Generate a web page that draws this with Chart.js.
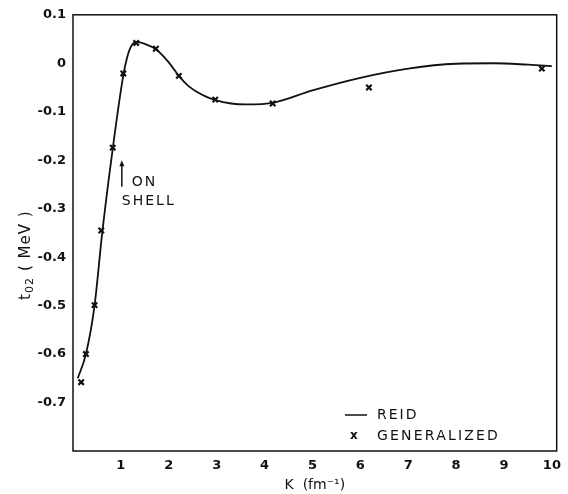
<!DOCTYPE html>
<html>
<head>
<meta charset="utf-8">
<script src="https://cdn.jsdelivr.net/npm/chart.js@4.4.0/dist/chart.umd.min.js"></script>
<style>
  html, body { margin: 0; padding: 0; background: #fff; }
  #wrap { width: 568px; height: 494px; }
</style>
</head>
<body>
<div id="wrap"><canvas id="myChart" width="568" height="494"></canvas></div>
<script>
// Reid curve
const reidK = [0.10, 0.27, 0.45, 0.61, 0.83, 1.05, 1.13, 1.22, 1.33, 1.50, 1.73, 2.00, 2.21, 2.40, 2.62, 2.80, 2.97, 3.30, 3.60, 4.20, 5.0, 6.0, 7.0, 8.0, 8.8, 9.5, 10.0];
const reidT = [-0.650, -0.600, -0.500, -0.350, -0.176, -0.025, 0.012, 0.036, 0.044, 0.040, 0.029, 0.002, -0.026, -0.046, -0.061, -0.070, -0.076, -0.083, -0.085, -0.081, -0.056, -0.030, -0.011, -0.001, 0.000, -0.003, -0.006];

// generalized points
const genK = [0.17, 0.27, 0.45, 0.59, 0.83, 1.05, 1.32, 1.73, 2.21, 2.97, 4.17, 6.18, 9.79];
const genT = [-0.658, -0.600, -0.499, -0.345, -0.174, -0.021, 0.042, 0.030, -0.026, -0.075, -0.083, -0.050, -0.011];

const xTicks = [1, 2, 3, 4, 5, 6, 7, 8, 9, 10];
const yTicks = [0.1, 0, -0.1, -0.2, -0.3, -0.4, -0.5, -0.6, -0.7];

const font = "'DejaVu Sans', sans-serif";

// box round the plot, y title, legend and the ON SHELL arrow
const extras = {
  id: 'extras',
  afterDraw(chart) {
    const ctx = chart.ctx;
    const a = chart.chartArea;
    const xs = chart.scales.x, ys = chart.scales.y;
    ctx.save();
    ctx.strokeStyle = '#111';
    ctx.lineWidth = 1.5;
    ctx.strokeRect(a.left, a.top, a.right - a.left, a.bottom - a.top);

    ctx.fillStyle = '#111';
    ctx.textBaseline = 'middle';
    ctx.textAlign = 'left';

    // y title with subscript
    ctx.save();
    ctx.translate(26, 254);
    ctx.rotate(-Math.PI / 2);
    ctx.font = '15px ' + font;
    ctx.letterSpacing = '1px';
    let x0 = -46;
    ctx.fillText('t', x0, 0);
    x0 += ctx.measureText('t').width;
    ctx.font = '11px ' + font;
    ctx.fillText('02', x0, 4);
    x0 += ctx.measureText('02').width + 6;
    ctx.font = '15px ' + font;
    ctx.fillText('( MeV )', x0, 0);
    ctx.restore();

    ctx.font = '14px ' + font;
    ctx.letterSpacing = '2px';

    // arrow
    const ax = xs.getPixelForValue(1.02);
    const ay0 = ys.getPixelForValue(-0.255), ay1 = ys.getPixelForValue(-0.2);
    ctx.lineWidth = 1.5;
    ctx.beginPath();
    ctx.moveTo(ax, ay0);
    ctx.lineTo(ax, ay1 + 3);
    ctx.stroke();
    ctx.beginPath();
    ctx.moveTo(ax - 2.5, ay1 + 6);
    ctx.lineTo(ax, ay1);
    ctx.lineTo(ax + 2.5, ay1 + 6);
    ctx.closePath();
    ctx.fill();
    ctx.fillText('ON', ax + 10, ay0 - 4);
    ctx.fillText('SHELL', ax, ay0 + 15);

    // legend
    const lx = a.left + 272, ly = a.bottom - 36;
    ctx.lineWidth = 1.5;
    ctx.beginPath();
    ctx.moveTo(lx, ly);
    ctx.lineTo(lx + 22, ly);
    ctx.stroke();
    ctx.fillText('REID', lx + 32, ly);
    ctx.font = 'bold 12px ' + font;
    ctx.letterSpacing = '0px';
    ctx.fillText('x', lx + 5, ly + 21);
    ctx.font = '14px ' + font;
    ctx.letterSpacing = '2.2px';
    ctx.fillText('GENERALIZED', lx + 32, ly + 21);
    ctx.restore();
  }
};

const ctx = document.getElementById('myChart').getContext('2d');
const myChart = new Chart(ctx, {
  type: 'scatter',
  data: {
    datasets: [
      {
        label: 'REID',
        data: reidK.map((k, i) => ({ x: k, y: reidT[i] })),
        showLine: true,
        borderColor: '#111',
        borderWidth: 1.8,
        pointRadius: 0,
        cubicInterpolationMode: 'monotone',
        fill: false,
      },
      {
        label: 'GENERALIZED',
        data: genK.map((k, i) => ({ x: k, y: genT[i] })),
        showLine: false,
        pointStyle: 'crossRot',
        pointRadius: 3.8,
        borderColor: '#111',
        borderWidth: 2.2,
      },
    ],
  },
  options: {
    responsive: false,
    animation: false,
    layout: { padding: { top: 14, right: 6, left: 0, bottom: 0 } },
    plugins: {
      legend: { display: false },
      tooltip: { enabled: false },
    },
    scales: {
      x: {
        type: 'linear',
        min: 0,
        max: 10.1,
        afterFit: (s) => { s.height = 43; },
        afterBuildTicks: (s) => { s.ticks = xTicks.map(v => ({ value: v })); },
        grid: { display: false, drawTicks: false },
        border: { display: false },
        ticks: {
          color: '#111',
          padding: 7,
          font: { family: font, size: 13, weight: 'bold' },
          callback: (v) => String(v),
        },
        title: {
          display: true,
          text: 'K  (fm⁻¹)',
          color: '#111',
          font: { family: font, size: 14 },
          padding: { top: 2, bottom: 0 },
        },
      },
      y: {
        min: -0.8,
        max: 0.1,
        afterFit: (s) => { s.width = 73; },
        afterBuildTicks: (s) => { s.ticks = yTicks.map(v => ({ value: v })); },
        grid: { display: false, drawTicks: false },
        border: { display: false },
        ticks: {
          color: '#111',
          padding: 7,
          font: { family: font, size: 13, weight: 'bold' },
          callback: (v) => (v === 0 ? '0' : v.toFixed(1)),
        },
        title: { display: false },
      },
    },
  },
  plugins: [extras],
});
</script>
</body>
</html>
